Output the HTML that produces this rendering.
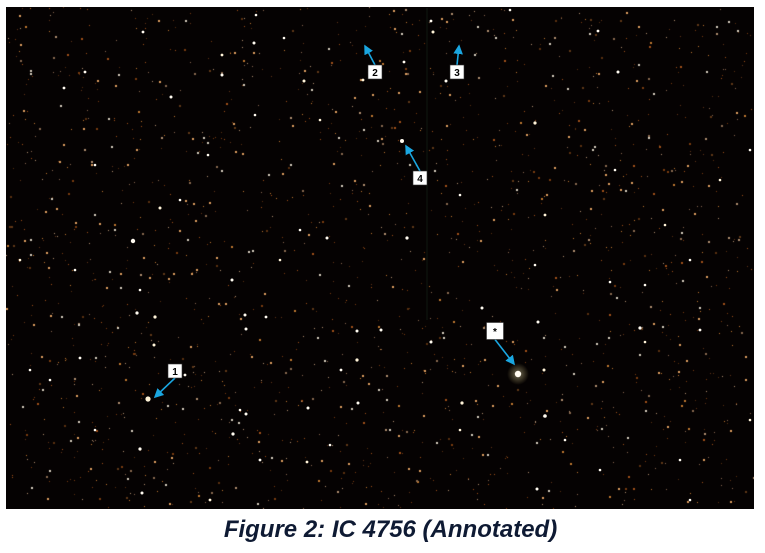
<!DOCTYPE html>
<html><head><meta charset="utf-8"><style>
html,body{margin:0;padding:0;background:#fff;width:765px;height:553px;overflow:hidden}
#wrap{position:relative;width:765px;height:553px}
#sky{position:absolute;left:6px;top:7px;width:748px;height:502px;background:#050202}
#faint{position:absolute;left:6px;top:7px}
#over{position:absolute;left:0;top:0}
#cap{position:absolute;left:0;width:765px;top:516px;text-align:center;padding-left:16px;box-sizing:border-box;font:bold italic 24px "Liberation Sans",sans-serif;color:#0e1a33}
</style></head><body>
<div id="wrap">
<div id="sky"></div>
<canvas id="faint" width="748" height="502"></canvas>
<svg id="over" width="765" height="553">
<defs>
<radialGradient id="glow"><stop offset="0" stop-color="#fff6c8" stop-opacity="0.45"/><stop offset="1" stop-color="#ffe890" stop-opacity="0"/></radialGradient>
<marker id="ah" markerWidth="6" markerHeight="6" refX="5" refY="3" orient="auto"><path d="M0,0 L6,3 L0,6 z" fill="#1aa6e0"/></marker>
</defs>
<line x1="427" y1="8" x2="427" y2="320" stroke="#101810" stroke-width="1"/>
<g id="stars"></g>
<g id="ann"></g>
</svg>
<div id="cap">Figure 2: IC 4756 (Annotated)</div>
</div>
<script>
const brightX=[148,518,133,402,155,137,245,246,154,185,233,140,210,142,357,381,357,341,358,308,462,431,545,537,307,246,260,538,544,143,64,85,222,254,284,222,304,171,431,256,433,598,404,510,535,327,407,446,363,618,640,700,645,482,232,266,160,80,75,95,545,645,610,690,720,750,460,300,280,140,30,50,750,680,600,690,20,240,95,180,320,255,208,330,460,565,535,615,665];
const brightY=[399,374,241,141,317,313,315,329,345,375,434,449,500,493,331,330,360,370,403,408,403,342,416,489,462,414,460,322,370,32,88,72,55,43,38,75,81,97,21,15,32,31,62,10,123,238,238,81,80,72,328,330,342,308,280,317,208,358,270,165,215,285,282,260,180,150,195,230,260,290,370,380,420,460,470,500,260,410,430,200,120,115,155,445,430,440,265,170,225];
const brightR=[2.6,3.2,2.2,2,1.6,1.6,1.5,1.5,1.5,1.4,1.6,1.6,1.4,1.5,1.5,1.5,1.6,1.4,1.5,1.5,1.6,1.5,1.8,1.5,1.4,1.5,1.4,1.5,1.5,1.4,1.4,1.4,1.4,1.5,1.3,1.5,1.5,1.5,1.4,1.3,1.5,1.4,1.4,1.3,1.6,1.5,1.6,1.5,1.4,1.5,1.6,1.4,1.3,1.5,1.5,1.4,1.5,1.4,1.3,1.3,1.4,1.3,1.3,1.3,1.3,1.3,1.3,1.3,1.3,1.3,1.3,1.3,1.3,1.3,1.3,1.3,1.3,1.3,1.3,1.3,1.3,1.3,1.3,1.3,1.3,1.3,1.3,1.3,1.3];
const labels=["1","2","3","4","*"];
const boxX=[175,375,457,420,495];
const boxY=[371,72,72,178,331];
const tipX=[155,365,459,406,514];
const tipY=[397,46,46,146,364];
const NS="http://www.w3.org/2000/svg";
const sg=document.getElementById('stars');
const g=document.createElementNS(NS,'circle');
g.setAttribute('cx',518);g.setAttribute('cy',374);g.setAttribute('r',11);g.setAttribute('fill','url(#glow)');


sg.appendChild(g);
for(let i=0;i<brightX.length;i++){
 const c=document.createElementNS(NS,'circle');
 c.setAttribute('cx',brightX[i]);c.setAttribute('cy',brightY[i]);c.setAttribute('r',brightR[i]);
 c.setAttribute('fill',i%4==0?'#fff3d8':'#fffaf0');
 
 
 sg.appendChild(c);
}
const ag=document.getElementById('ann');
for(let i=0;i<labels.length;i++){
 const w=labels[i]=='*'?17:14;
 const l=document.createElementNS(NS,'line');
 const sx=boxX[i], sy=boxY[i]+(tipY[i]>boxY[i]?w/2:-w/2);
 l.setAttribute('x1',sx);l.setAttribute('y1',sy);l.setAttribute('x2',tipX[i]);l.setAttribute('y2',tipY[i]);
 l.setAttribute('stroke','#1aa6e0');l.setAttribute('stroke-width','1.6');l.setAttribute('marker-end','url(#ah)');
 
 
 ag.appendChild(l);
 const r=document.createElementNS(NS,'rect');
 r.setAttribute('x',boxX[i]-w/2);r.setAttribute('y',boxY[i]-w/2);r.setAttribute('width',w);r.setAttribute('height',w);
 r.setAttribute('fill','#fff');r.setAttribute('stroke','#333');r.setAttribute('stroke-width','0.6');
 
 
 ag.appendChild(r);
 const t=document.createElementNS(NS,'text');
 t.setAttribute('x',boxX[i]);t.setAttribute('y',boxY[i]+4);t.setAttribute('text-anchor','middle');
 t.setAttribute('font-family','Liberation Sans, sans-serif');t.setAttribute('font-size','10');t.setAttribute('font-weight','bold');
 t.textContent=labels[i];
 
 
 ag.appendChild(t);
}
const cv=document.getElementById('faint').getContext('2d');
let s=12345;function rnd(){s=(s*1103515245+12345)%2147483648;return s/2147483648;}
const cols=['#7a3d10','#a0521a','#5a3010','#c07a30','#8a6a50','#b09070','#603818'];
for(let i=0;i<1600;i++){
 const x=rnd()*748,y=rnd()*502,c=cols[Math.floor(rnd()*cols.length)];
 cv.fillStyle=c;const sz=rnd()<0.15?2:1;cv.fillRect(Math.floor(x),Math.floor(y),sz,sz);
}
for(let i=0;i<250;i++){
 const x=rnd()*748,y=rnd()*502;cv.fillStyle=rnd()<0.5?'#e0a060':'#d8d0c0';
 cv.fillRect(Math.floor(x),Math.floor(y),2,2);
}
</script>
</body></html>
